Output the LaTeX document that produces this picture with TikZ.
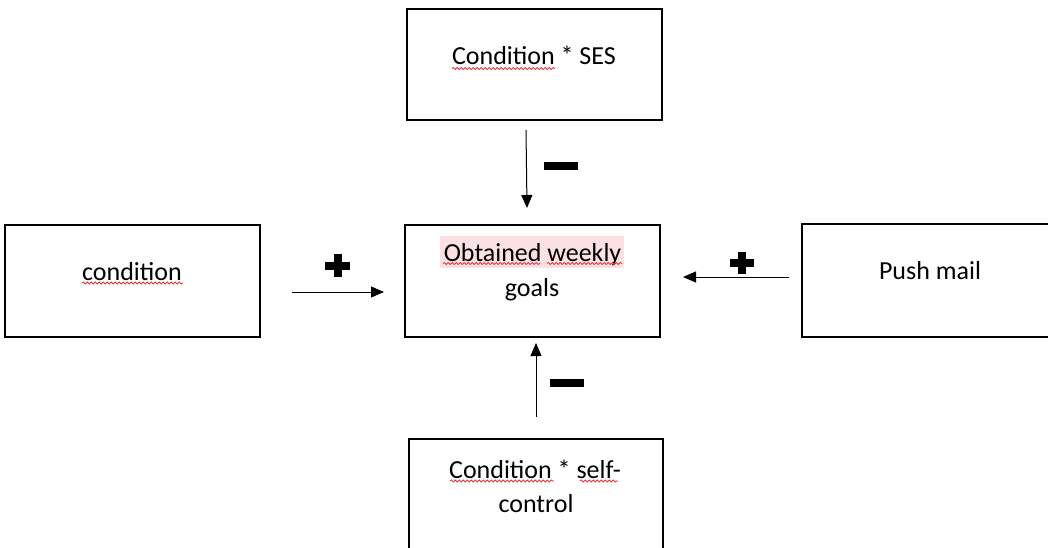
\documentclass[tikz,border=0pt]{standalone}
\usepackage{fontspec}
\setmainfont{Carlito}
\usetikzlibrary{arrows.meta,decorations.pathmorphing}
\definecolor{hlpink}{HTML}{FCE1E4}
\definecolor{spellred}{HTML}{E8383D}
\begin{document}
\begin{tikzpicture}[x=1pt,y=-1pt,
  box/.style={draw=black, line width=2pt, fill=white, inner sep=0pt},
  lbl/.style={anchor=base, inner sep=0pt, font=\fontsize{26}{35}\selectfont},
  conn/.style={line width=1pt, -{Triangle[length=13pt,width=11pt]}},
  sign/.style={fill=black},
  spell/.style={draw=spellred, line width=0.8pt, decorate, decoration={snake, amplitude=1.1pt, segment length=4pt}}]
\useasboundingbox (0,0) rectangle (1048,548);
\fill[white] (0,0) rectangle (1048,548);
\clip (0,0) rectangle (1048,548);
% boxes
\node[box, minimum width=255pt, minimum height=111pt] (top) at (534.5,64.5) {};
\node[box, minimum width=255pt, minimum height=112pt] (mid) at (532.5,281) {};
\node[box, minimum width=255pt, minimum height=112pt] (left) at (132.5,281) {};
\node[box, minimum width=256pt, minimum height=113pt] (right) at (930,280.5) {};
\node[box, minimum width=254pt, minimum height=113pt] (bot) at (536,495.5) {};
% highlight
\fill[hlpink] (440,236) rectangle (624,268);
% texts
\node[lbl] (ttop) at (534,65) {Condition * SES};
\node[lbl] (tmid1) at (532.5,261) {Obtained weekly};
\node[lbl] (tmid2) at (532,296) {goals};
\node[lbl] (tleft) at (132,280) {condition};
\node[lbl] (tright) at (930,279) {Push mail};
\node[lbl] (tbot1) at (535,478) {Condition * self-};
\node[lbl] (tbot2) at (536,512) {control};
% spell-check underlines
\draw[spell] (452,68.5) -- (555,68.5);
\draw[spell] (443,263.5) -- (540,263.5);
\draw[spell] (547,263.5) -- (622,263.5);
\draw[spell] (82,283) -- (183,283);
\draw[spell] (450,481) -- (554,481);
\draw[spell] (580,481) -- (618,481);
% connectors
\coordinate (a1s) at (526,130); \coordinate (a1e) at (527,208);
\coordinate (a2s) at (292,292); \coordinate (a2e) at (384,292);
\coordinate (a3s) at (789,277); \coordinate (a3e) at (683,277);
\coordinate (a4s) at (536,417); \coordinate (a4e) at (536,343);
\draw[conn] (a1s) -- (a1e);
\draw[conn] (a2s) -- (a2e);
\draw[conn] (a3s) -- (a3e);
\draw[conn] (a4s) -- (a4e);
% signs
\fill[sign] (544,162) rectangle (578,170);
\fill[sign] (325,261.5) rectangle (350,269.5);
\fill[sign] (333.5,254) rectangle (341.5,277);
\fill[sign] (730,259) rectangle (754,267);
\fill[sign] (738,252) rectangle (746,274);
\fill[sign] (550,379) rectangle (584,387);
\end{tikzpicture}
\end{document}
